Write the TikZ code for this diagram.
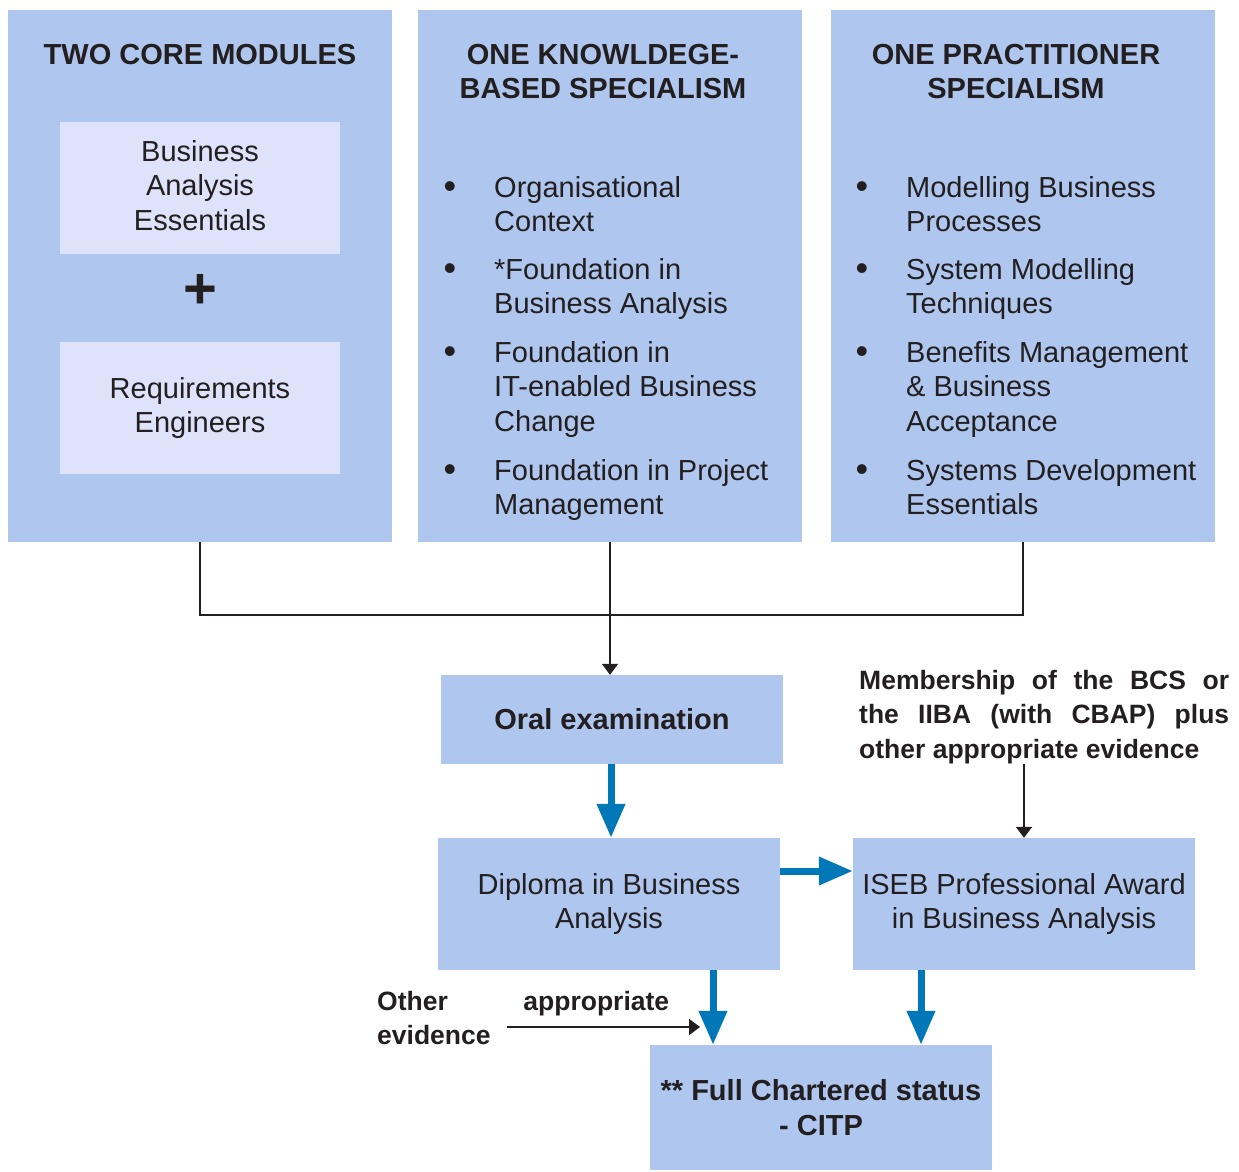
\documentclass[tikz,border=0pt]{standalone}
\usepackage{fontspec}
\setmainfont{Liberation Sans}
\usetikzlibrary{arrows.meta}
\definecolor{boxblue}{HTML}{AFC7EF}
\definecolor{paleblue}{HTML}{DEE3FB}
\definecolor{flowblue}{HTML}{0077B6}
\definecolor{ink}{HTML}{231F20}
\newcommand{\bodyfont}{\fontsize{29}{34.5}\selectfont}
\newcommand{\headfont}{\fontsize{29}{34.5}\selectfont\bfseries}
\newcommand{\notefont}{\fontsize{26.5}{34.5}\selectfont\bfseries}
\newcommand{\dotfont}{\fontsize{36}{36}\selectfont}

\begin{document}
\begin{tikzpicture}[x=1pt,y=-1pt,
	panel/.style={fill=boxblue,inner sep=0pt,text=ink,font=\bodyfont,align=center},
	module/.style={panel,fill=paleblue,minimum width=280pt,minimum height=132pt},
	headtext/.style={inner sep=0pt,text=ink,font=\headfont,align=center},
	item/.style={anchor=north west,inner sep=0pt,text=ink,font=\bodyfont,align=left},
	dot/.style={inner sep=0pt,text=ink,font=\dotfont},
	note/.style={anchor=north west,inner sep=0pt,text=ink,font=\notefont,align=justify},
	link/.style={draw=ink,line width=2pt},
	pointer/.style={link,-{Triangle[width=16pt,length=11pt]}},
	flow/.style={draw=flowblue,line width=7pt,-{Triangle[width=27pt,length=34pt]}}]
	\useasboundingbox (0,0) rectangle (1239,1171);
	\node[panel,minimum width=384pt,minimum height=532pt] (core) at (200,276) {};
	\node[panel,minimum width=384pt,minimum height=532pt] (know) at (610,276) {};
	\node[panel,minimum width=384pt,minimum height=532pt] (practice) at (1023,276) {};
	\node[headtext] (corehead) at (200,54.5) {TWO CORE MODULES};
	\node[headtext] (knowhead) at (603,71.5) {ONE KNOWLDEGE-\\BASED SPECIALISM};
	\node[headtext] (practicehead) at (1016,71.5) {ONE PRACTITIONER\\SPECIALISM};
	\node[module] (bae) at (200,188) {Business\\Analysis\\Essentials\vphantom{g}};
	\node[headtext,font=\fontsize{58}{58}\selectfont\bfseries] (plus) at (200,291) {+};
	\node[module] (req) at (200,408) {Requirements\\Engineers};
	\foreach \n/\y/\a/\b in {1/176/{Organisational\\Context}/{Modelling Business\\Processes},
		2/258/{*Foundation in\\Business Analysis}/{System Modelling\\Techniques},
		3/341/{Foundation in\\IT-enabled Business\\Change}/{Benefits Management\\\& Business\\Acceptance},
		4/459/{Foundation in Project\\Management}/{Systems Development\\Essentials}}{
		\node[item] (k\n) at (494,\y) {\a};
		\node[dot] (kb\n) at ([xshift=-44pt,yshift=-14pt]k\n.north west) {\textbullet};
		\node[item] (p\n) at (906,\y) {\b};
		\node[dot] (pb\n) at ([xshift=-44pt,yshift=-14pt]p\n.north west) {\textbullet};
	}
	\node[panel,font=\headfont,minimum width=342pt,minimum height=89pt] (oral) at (612,719.5) {Oral examination};
	\node[panel,minimum width=342pt,minimum height=132pt] (diploma) at (609,904) {Diploma in Business\\Analysis};
	\node[panel,minimum width=342pt,minimum height=132pt] (iseb) at (1024,904) {ISEB Professional Award\\in Business Analysis};
	\node[panel,font=\headfont,minimum width=342pt,minimum height=125pt] (full) at (821,1107.5) {** Full Chartered status\\- CITP};
	\node[note,text width=370pt] (member) at (859,670) {\tolerance=10000 Membership of the BCS or\linebreak the IIBA (with CBAP) plus\linebreak other appropriate evidence};
	\node[note,text width=292pt] (other) at (377,991) {\tolerance=10000 Other appropriate\linebreak evidence};
	\coordinate (othertail) at (507,1027);
	\coordinate (otherhead) at (700,1027);
	\draw[link] (core.south) -- ++(0,73) -| (practice.south);
	\draw[pointer] (know.south) -- (know.south |- oral.north);
	\draw[flow] ([xshift=-1pt]oral.south) -- ([xshift=2pt]diploma.north);
	\draw[flow] ([yshift=33pt]diploma.east) -- ([yshift=33pt]iseb.west);
	\draw[flow] ([xshift=104pt]diploma.south) -- ([xshift=-108pt]full.north);
	\draw[flow] ([xshift=-103pt]iseb.south) -- ([xshift=100pt]full.north);
	\draw[pointer] (iseb.north |- member.south) -- (iseb.north);
	\draw[pointer] (othertail) -- (otherhead);
\end{tikzpicture}
\end{document}
